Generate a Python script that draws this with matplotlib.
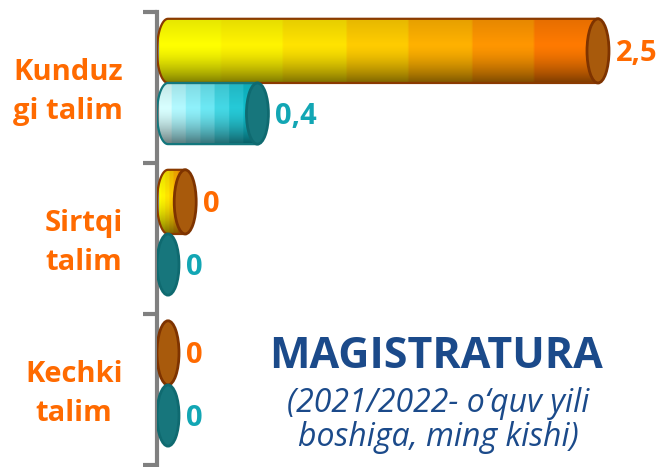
import numpy as np
import matplotlib
matplotlib.use("Agg")
import matplotlib.pyplot as plt
from matplotlib.patches import Ellipse, PathPatch
from matplotlib.path import Path
from matplotlib.colors import to_rgb
import matplotlib.transforms as mtransforms

# ---- data ----
categories = ["Kunduz\ngi talim", "Sirtqi\ntalim", "Kechki\ntalim"]
orange_values = [2.5, 0.1, 0.0]      # bar lengths as drawn
teal_values = [0.52, 0.0, 0.0]
orange_labels = ["2,5", "0", "0"]
teal_labels = ["0,4", "0", "0"]
title = "MAGISTRATURA"
subtitle = ["(2021/2022- o\u2018quv yili", "boshiga, ming kishi)"]

# ---- styles ----
ORANGE_TXT = "#FF6A00"
TEAL_TXT = "#12A6B4"
BLUE = "#1B4A8A"
FONT = ["Open Sans", "DejaVu Sans"]

W, H = 665, 467
fig = plt.figure(figsize=(W / 100, H / 100), dpi=100)
ax_left, ax_right = 157, 665
ax_top, ax_bot = 12, 465
ax = fig.add_axes([ax_left / W, 1 - ax_bot / H, (ax_right - ax_left) / W, (ax_bot - ax_top) / H])
px_per_unit = 172.0
ax.set_xlim(0, (ax_right - ax_left) / px_per_unit)
ax.set_ylim(3, 0)
ax.set_facecolor("white")

hw = 11.0 / px_per_unit  # half width of cylinder ellipses (data units)
x0 = hw


def cylinder(value, ytop, ybot, colors, edge, cap_face, cap_edge, nbands=7):
    x1 = x0 + value
    if value > 0:
        nx, ny = 200, 60
        t = np.linspace(0, 1, nx)
        tq = np.clip(np.floor(t * nbands) / (nbands - 1), 0, 1)
        cols = np.array([to_rgb(c) for c in colors])
        pos = np.linspace(0, 1, len(cols))
        row = np.stack([np.interp(tq, pos, cols[:, k]) for k in range(3)], axis=1)
        v = np.linspace(0, 1, ny)
        prof = np.where(v < 0.4, 0.9 + 0.1 * (v / 0.4), 1 - 0.5 * ((v - 0.4) / 0.6) ** 1.6)
        img = np.clip(prof[:, None, None] * row[None, :, :], 0, 1)
        im = ax.imshow(img, extent=[x0 - hw, x1, ybot, ytop], aspect="auto",
                       interpolation="bilinear", zorder=2)
        cy = (ytop + ybot) / 2
        ry = (ybot - ytop) / 2
        arc = [(x0 + hw * np.cos(a), cy + ry * np.sin(a))
               for a in np.linspace(np.pi / 2, 3 * np.pi / 2, 40)]
        verts = [(x0, ytop), (x1, ytop), (x1, ybot), (x0, ybot)] + arc[1:] + [(x0, ytop)]
        codes = [Path.MOVETO] + [Path.LINETO] * (len(verts) - 2) + [Path.CLOSEPOLY]
        patch = PathPatch(Path(verts, codes), facecolor="none", edgecolor=edge, lw=1.6, zorder=3)
        ax.add_patch(patch)
        im.set_clip_path(patch)
    cap = Ellipse((x1, (ytop + ybot) / 2), 2 * hw, ybot - ytop, facecolor=cap_face,
                  edgecolor=cap_edge, lw=2.0, zorder=4)
    ax.add_patch(cap)
    return x1 + hw


orange_cols = ["#FFFF00", "#FFF200", "#FFDC00", "#FFBC00", "#FF9C00", "#FF7A00"]
teal_cols = ["#D8FFFF", "#A0F6FF", "#6CE8F4", "#30D0DE", "#10BCCA"]

lab_kw = dict(fontsize=21, fontweight="bold", family=FONT, va="center", ha="left")
gap = 7.0 / px_per_unit
for i in range(len(categories)):
    o_top, o_bot = i + 0.045, i + 0.47
    t_top, t_bot = i + 0.47, i + 0.875
    xr = cylinder(orange_values[i], o_top, o_bot, orange_cols, "#8A3A00", "#A85A0C", "#7E3300")
    ax.text(xr + gap, (o_top + o_bot) / 2 + 0.02, orange_labels[i], color=ORANGE_TXT, **lab_kw)
    xr = cylinder(teal_values[i], t_top, t_bot, teal_cols, "#13777D", "#17767C", "#0F6A70")
    ax.text(xr + gap, (t_top + t_bot) / 2 + 0.02, teal_labels[i], color=TEAL_TXT, **lab_kw)

tr = mtransforms.blended_transform_factory(fig.transFigure, ax.transData)
for i, c in enumerate(categories):
    fig.text(123 / W, i + 0.53, c, transform=tr, ha="right", va="center",
             multialignment="center", fontsize=21, fontweight="bold", family=FONT,
             color=ORANGE_TXT, linespacing=1.45)

for s in ["top", "right", "bottom"]:
    ax.spines[s].set_visible(False)
ax.spines["left"].set_color("#808080")
ax.spines["left"].set_linewidth(3)
ax.set_xticks([])
ax.set_yticks([0, 1, 2, 3])
ax.set_yticklabels([])
ax.tick_params(axis="y", direction="out", length=10, width=3, color="#808080")

fig.text(436 / W, 1 - 356 / H, title, ha="center", va="center", fontsize=31,
         fontweight="bold", family=FONT, color=BLUE)
fig.text(438 / W, 1 - 404 / H, subtitle[0], ha="center", va="center", fontsize=23,
         style="italic", family=FONT, color=BLUE)
fig.text(438 / W, 1 - 438 / H, subtitle[1], ha="center", va="center", fontsize=23,
         style="italic", family=FONT, color=BLUE)

fig.savefig("out.png", dpi=100, facecolor="white")
